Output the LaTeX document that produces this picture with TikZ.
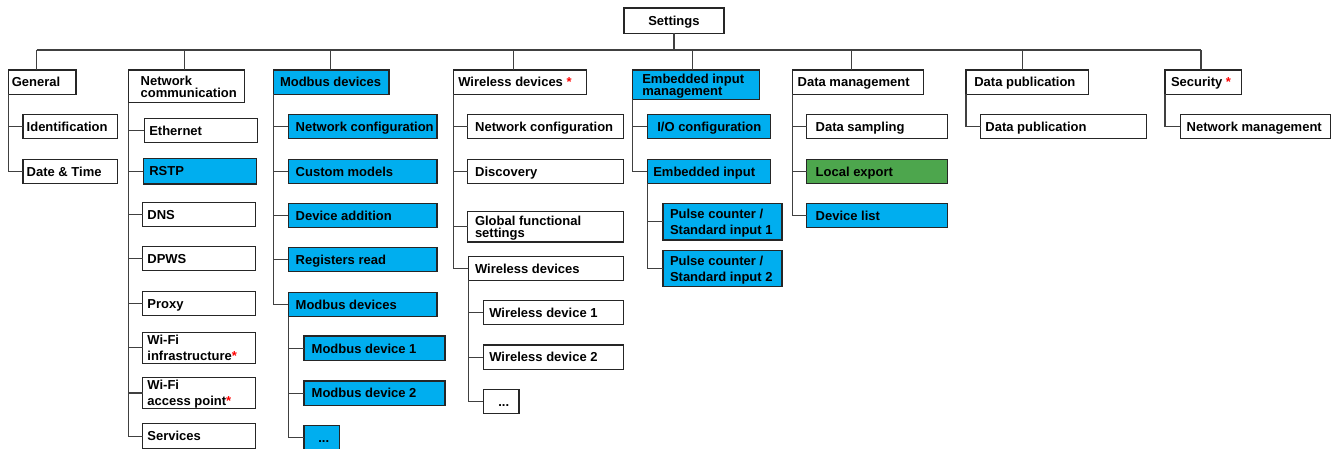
\documentclass[tikz,border=0pt]{standalone}
\usepackage{fontspec}
\setmainfont{Liberation Sans}
\definecolor{menublue}{RGB}{0,174,239}
\definecolor{menugreen}{RGB}{77,166,77}

% [style]{name}{x,y}{width}{height}{left pad}{text}
\newcommand{\menuitem}[7][]{%
  \node[mbox,#1,minimum width=#4pt,minimum height=#5pt] (#2) at (#3)
    {\makebox[#4pt][l]{\hspace*{#6pt}\begin{tabular}[t]{@{}l@{}}#7\\[-3.6pt]\end{tabular}}};}

\begin{document}
\begin{tikzpicture}[
        x=1pt, y=-1pt,
        mbox/.style={
            draw=black!85, line width=1.2pt, fill=white,
            anchor=north west, outer sep=0pt, inner xsep=0pt, inner ysep=1pt,
            text height=9.5pt, text depth=0pt,
            font=\bfseries\fontsize{13}{12}\selectfont
        },
        twoline/.style={text height=, text depth=},
        active/.style={fill=menublue},
        export/.style={fill=menugreen},
        link/.style={draw=black!75, line width=1.2pt}
    ]
        \useasboundingbox (0,0) rectangle (1341,448);

        % Root and first level
        \menuitem{settings}{624,8}{100}{25.3}{24.3}{Settings}
        \menuitem{general}{8.3,70}{67.7}{24.3}{3.5}{General}
        \menuitem[twoline]{netcomm}{128.7,70}{115.6}{32.7}{12}{Network\\[-1pt]communication}
        \menuitem[active]{modbus}{273.3,70}{115.7}{24.3}{6.7}{Modbus devices}
        \menuitem{wireless}{453.3,70}{133.4}{24.3}{5}{Wireless devices \textcolor{red}{*}}
        \menuitem[active,twoline]{embedded}{632.7,70}{126.6}{29.3}{9.6}{Embedded input\\management}
        \menuitem{datamgmt}{792.3,70}{131}{24.3}{5.4}{Data management}
        \menuitem{datapub}{966,70}{122.3}{24.3}{8.3}{Data publication}
        \menuitem{security}{1165,70}{76.7}{24.3}{6}{Security \textcolor{red}{*}}

        % General
        \menuitem{ident}{23,114.3}{94.7}{24}{3.7}{Identification}
        \menuitem{datetime}{23,159.3}{94.7}{24}{3.7}{Date \& Time}

        % Network communication
        \menuitem{ethernet}{144.3,118.3}{113}{24}{5}{Ethernet}
        \menuitem[active]{rstp}{143.3,158.3}{113}{25.7}{6}{RSTP}
        \menuitem{dns}{142.7,202.7}{113}{24}{4.7}{DNS}
        \menuitem{dpws}{142.7,246.7}{113}{24}{4.7}{DPWS}
        \menuitem{proxy}{142.7,291.3}{113}{24}{4.7}{Proxy}
        \menuitem[twoline]{wifiinf}{142.7,332.3}{113}{31}{4.7}{Wi-Fi\\[3.4pt]infrastructure\textcolor{red}{*}}
        \menuitem[twoline]{wifiap}{142.7,377.3}{113}{31.4}{4.7}{Wi-Fi\\[3.4pt]access point\textcolor{red}{*}}
        \menuitem{services}{142.7,423.7}{113}{25}{4.7}{Services}

        % Modbus devices
        \menuitem[active]{mbnet}{288.3,114.3}{148.7}{24}{7.4}{Network configuration}
        \menuitem[active]{custom}{288.3,159.3}{148.7}{24}{7.4}{Custom models}
        \menuitem[active]{devadd}{288.3,203.3}{148.7}{24}{7.4}{Device addition}
        \menuitem[active]{regread}{288.3,247.7}{148.7}{24}{7.4}{Registers read}
        \menuitem[active]{mbdevs}{288.3,292.3}{148.7}{24.4}{7.4}{Modbus devices}
        \menuitem[active]{mbdev1}{304,336}{141}{24.7}{7.7}{Modbus device 1}
        \menuitem[active]{mbdev2}{304,381}{141}{24.3}{7.7}{Modbus device 2}
        \menuitem[active]{mbmore}{304,425.3}{35.7}{24}{14.3}{...}

        % Wireless devices
        \menuitem{wlnet}{467.7,114.3}{155.6}{24}{7.5}{Network configuration}
        \menuitem{discovery}{467.7,159.3}{155.6}{24}{7.5}{Discovery}
        \menuitem[twoline]{global}{467.7,211.3}{155.6}{30.7}{7.3}{Global functional\\[-0.3pt]settings}
        \menuitem{wldevs}{468.3,256.3}{155}{24}{6.7}{Wireless devices}
        \menuitem{wldev1}{483.3,300.7}{140}{24}{6}{Wireless device 1}
        \menuitem{wldev2}{483.3,345}{140}{24.3}{6}{Wireless device 2}
        \menuitem{wlmore}{483.3,389.3}{35.7}{24}{15}{...}

        % Embedded input management
        \menuitem[active]{ioconf}{647.3,114.3}{123.4}{24}{10}{I/O configuration}
        \menuitem[active]{embinput}{647.3,159.3}{123.4}{24}{6}{Embedded input}
        \menuitem[active,twoline]{pulse1}{663,203.3}{119}{36.7}{7}{Pulse counter /\\[2.7pt]Standard input 1}
        \menuitem[active,twoline]{pulse2}{663,250.3}{119}{36.4}{7}{Pulse counter /\\[2.7pt]Standard input 2}

        % Data management
        \menuitem{sampling}{806.7,114.3}{141}{24}{9}{Data sampling}
        \menuitem[export]{localexp}{806.7,159.3}{141}{24}{9}{Local export}
        \menuitem[active]{devlist}{806.7,203.3}{141}{24}{9}{Device list}

        % Data publication and Security
        \menuitem{pubitem}{980.7,114.3}{166}{24}{4.7}{Data publication}
        \menuitem{netmgmt}{1180.3,114.3}{150}{24}{6.4}{Network management}

        % Bus from Settings to the first level
        \coordinate (busL) at (36.7,50);
        \coordinate (busR) at (1201,50);
        \draw[link] (busL) -- (busR);
        \draw[link] (settings.south) -- (settings.south |- busL);
        \foreach \n/\s in {general/-5.5, netcomm/-2.2, modbus/-1, wireless/-6.7,
                embedded/-3.3, datamgmt/-6.1, datapub/-4.3, security/-2.3}
            \draw[link] ([xshift=\s pt]\n.north) -- ++(0,-20);

        % Tree links, parent stem to child
        \foreach \p/\c in {general/ident, general/datetime,
                netcomm/ethernet, netcomm/rstp, netcomm/dns, netcomm/dpws,
                netcomm/proxy, netcomm/wifiinf, netcomm/wifiap, netcomm/services,
                modbus/mbnet, modbus/custom, modbus/devadd, modbus/regread, modbus/mbdevs,
                mbdevs/mbdev1, mbdevs/mbdev2, mbdevs/mbmore,
                wireless/wlnet, wireless/discovery, wireless/global, wireless/wldevs,
                wldevs/wldev1, wldevs/wldev2, wldevs/wlmore,
                embedded/ioconf, embedded/embinput, embinput/pulse1, embinput/pulse2,
                datamgmt/sampling, datamgmt/localexp, datamgmt/devlist,
                datapub/pubitem, security/netmgmt}
            \draw[link] (\p.south west) |- (\c.west);

    \end{tikzpicture}
\end{document}
